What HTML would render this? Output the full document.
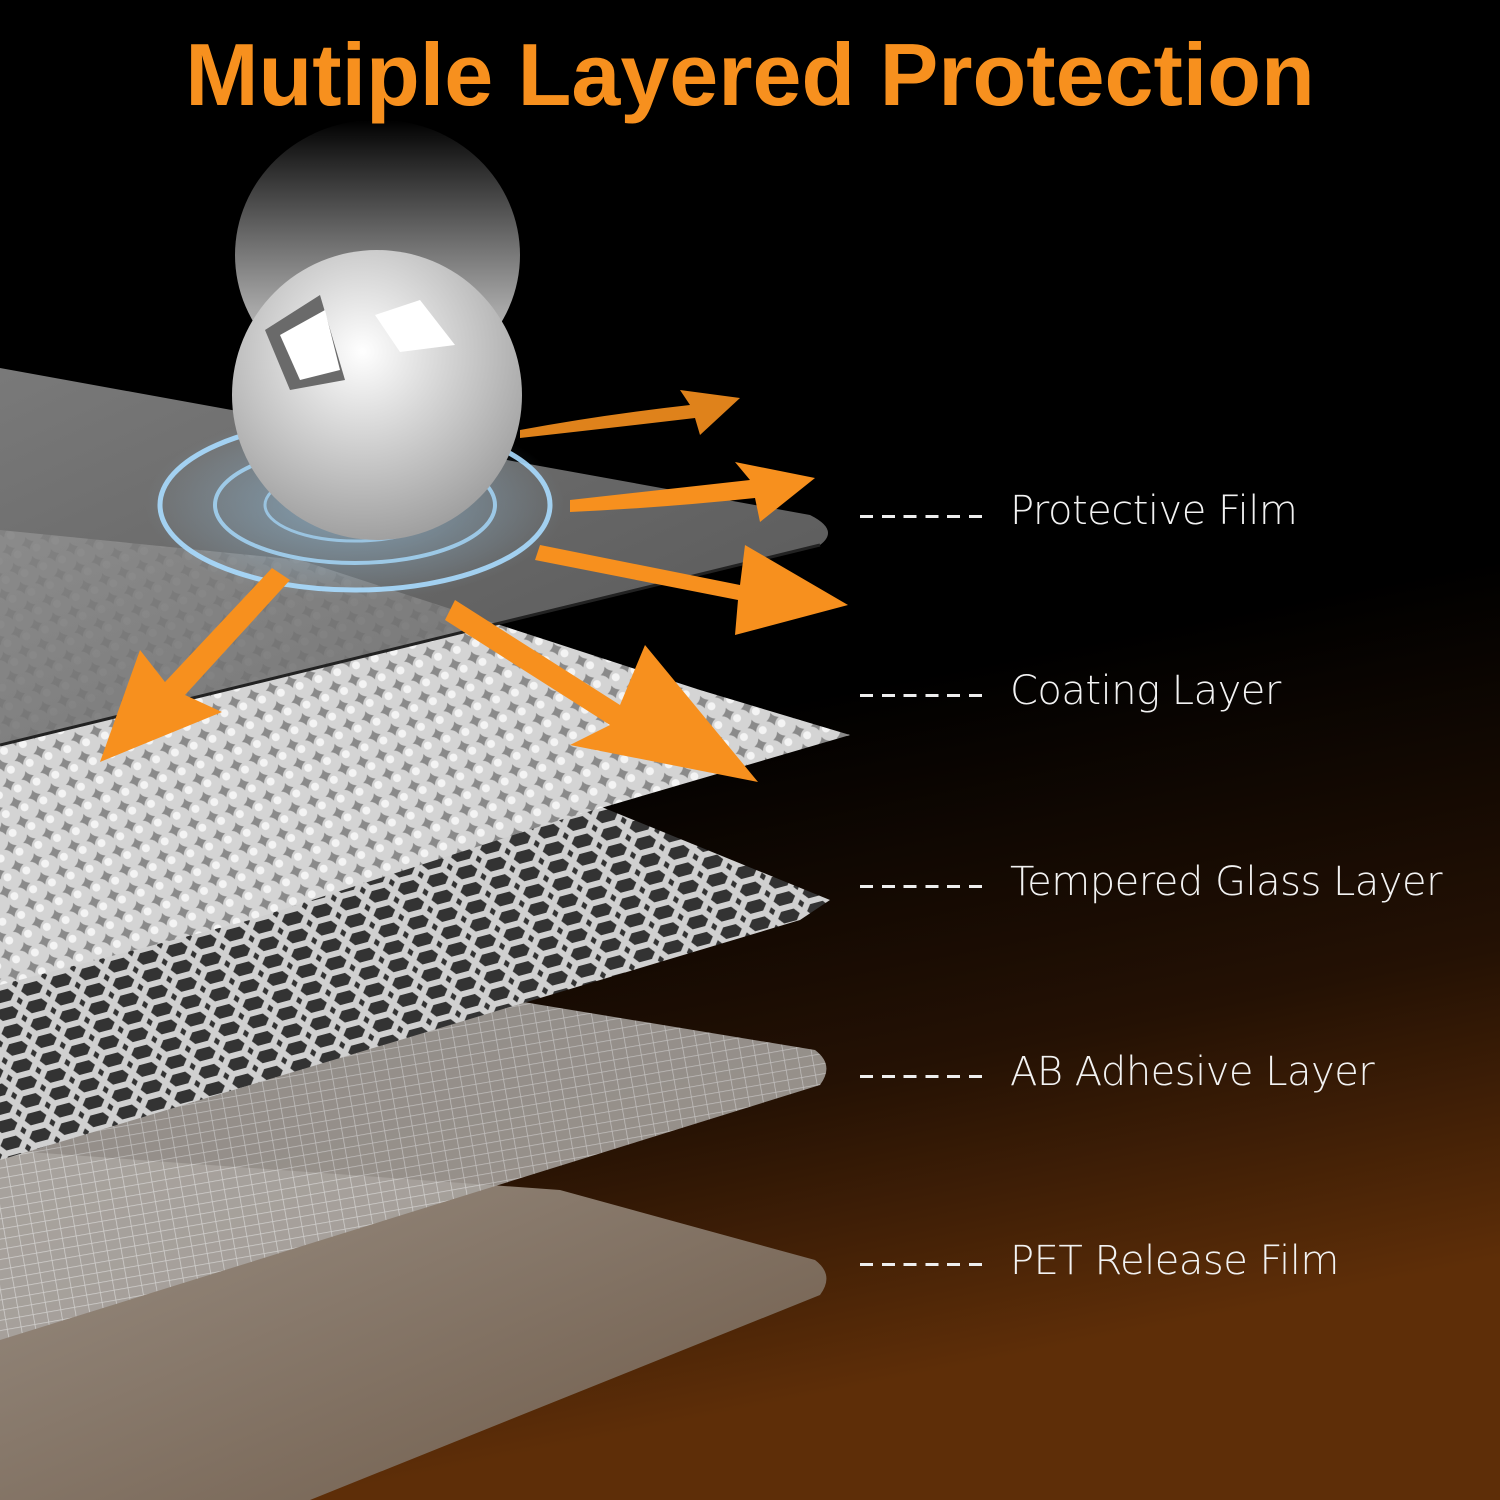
<!DOCTYPE html>
<html><head><style>
html,body{margin:0;padding:0;background:#000;}
.w{position:relative;width:1500px;height:1500px;overflow:hidden;}
svg{position:absolute;left:0;top:0;}
.t{position:absolute;left:0;width:1500px;top:24px;text-align:center;font:bold 88px "Liberation Sans",sans-serif;color:#f7901e;letter-spacing:0px;}
.l{position:absolute;left:1010px;font:40px "DejaVu Sans","Liberation Sans",sans-serif;color:#f2f2f2;white-space:pre;font-weight:300;letter-spacing:-0.5px;}
.d{position:absolute;left:860px;width:122px;height:3px;background:repeating-linear-gradient(90deg,#eee 0 13px,transparent 13px 21.8px);}
</style></head><body><div class="w">
<svg width="1500" height="1500" viewBox="0 0 1500 1500">
<defs>
<linearGradient id="bg" x1="0" y1="0" x2="0.2" y2="1">
<stop offset="0.55" stop-color="#000"/><stop offset="0.8" stop-color="#241104"/><stop offset="1" stop-color="#5e2e08"/>
</linearGradient>
<linearGradient id="pf" x1="0" y1="0" x2="1" y2="1">
<stop offset="0" stop-color="#8a8a8a"/><stop offset="1" stop-color="#606060"/>
</linearGradient>
<linearGradient id="pet" x1="0" y1="0" x2="1" y2="1">
<stop offset="0" stop-color="#9a8f84"/><stop offset="1" stop-color="#6e5a48"/>
</linearGradient>
<pattern id="beads" width="20" height="20" patternUnits="userSpaceOnUse" patternTransform="rotate(-20)">
<rect width="20" height="20" fill="#8a8a8a"/>
<circle cx="10" cy="10" r="10.5" fill="#d4d4d4"/><circle cx="7" cy="7" r="4" fill="#f4f4f4"/>
</pattern>
<pattern id="mesh" width="30" height="18" patternUnits="userSpaceOnUse" patternTransform="rotate(-15)">
<rect width="30" height="18" fill="#333"/>
<path d="M0 9 L7 0 L23 0 L30 9 L23 18 L7 18 Z" fill="none" stroke="#d0d0d0" stroke-width="6"/>
</pattern>
<pattern id="grid" width="14" height="10" patternUnits="userSpaceOnUse" patternTransform="rotate(-10)">
<rect width="14" height="10" fill="#aaa6a2"/>
<path d="M0 0H14M0 0V10" stroke="#ddd" stroke-width="1.5"/>
</pattern>
<radialGradient id="ball" cx="0.45" cy="0.35" r="0.7">
<stop offset="0" stop-color="#fff"/><stop offset="0.5" stop-color="#ccc"/><stop offset="1" stop-color="#999"/>
</radialGradient>
<linearGradient id="trail" x1="0" y1="0" x2="0" y2="1">
<stop offset="0" stop-color="#fff" stop-opacity="0"/><stop offset="0.7" stop-color="#eee" stop-opacity="0.7"/><stop offset="1" stop-color="#eee" stop-opacity="0.9"/>
</linearGradient>
<radialGradient id="glow" cx="0.5" cy="0.5" r="0.5">
<stop offset="0" stop-color="#9fd8ff" stop-opacity="0.5"/><stop offset="1" stop-color="#9fd8ff" stop-opacity="0"/>
</radialGradient>
</defs>
<rect width="1500" height="1500" fill="url(#bg)"/>
<path d="M0 1150 L560 1190 L815 1260 Q835 1275 820 1295 L310 1500 L0 1500Z" fill="url(#pet)"/>
<path d="M0 1000 L450 990 L815 1050 Q835 1065 820 1085 L0 1340Z" fill="url(#grid)" opacity="0.85"/>
<path d="M0 900 L560 790 L830 900 L800 920 L0 1160Z" fill="url(#mesh)"/>
<path d="M0 530 L300 560 L700 690 L850 735 L560 820 L250 920 L0 985Z" fill="url(#beads)"/>
<path d="M0 368 L810 515 Q840 530 820 545 L0 745Z" fill="url(#pf)" opacity="0.88"/>
<path d="M0 745 L820 545" stroke="#222" stroke-width="3"/>
<rect x="235" y="120" width="285" height="270" rx="140" fill="url(#trail)"/>
<ellipse cx="355" cy="505" rx="210" ry="95" fill="url(#glow)"/>
<g fill="none" stroke="#a8dcff">
<ellipse cx="355" cy="505" rx="195" ry="85" stroke-width="5" opacity="0.9"/>
<ellipse cx="355" cy="505" rx="140" ry="58" stroke-width="4" opacity="0.8"/>
<ellipse cx="355" cy="505" rx="90" ry="36" stroke-width="3" opacity="0.7"/>
</g>
<circle cx="377" cy="395" r="145" fill="url(#ball)"/>
<path d="M265 330 L320 295 L345 380 L290 390Z" fill="#6a6a6a"/>
<path d="M280 335 L325 310 L340 370 L300 380Z" fill="#fff"/>
<path d="M375 315 L420 300 L455 345 L400 352Z" fill="#fff"/>
<g fill="#f7901e">
<path d="M520 430 Q600 415 690 405 L680 390 L740 398 L700 435 L695 418 Q610 428 520 438Z" opacity="0.9"/>
<path d="M570 500 Q660 490 750 480 L735 462 L815 478 L760 522 L755 498 Q660 508 570 512Z"/>
<path d="M540 545 L740 585 L745 545 L848 605 L735 635 L738 600 L535 560Z"/>
<path d="M455 600 L620 705 L645 645 L758 782 L570 745 L610 725 L445 620Z"/>
<path d="M290 580 L185 695 L222 712 L100 762 L140 650 L165 682 L272 568Z"/>
</g>
</svg>
<div class="t">Mutiple Layered Protection</div>
<div class="d" style="top:515px"></div><div class="l" style="top:488px">Protective Film</div>
<div class="d" style="top:694px"></div><div class="l" style="top:668px">Coating Layer</div>
<div class="d" style="top:885px"></div><div class="l" style="top:859px">Tempered Glass Layer</div>
<div class="d" style="top:1075px"></div><div class="l" style="top:1049px">AB Adhesive Layer</div>
<div class="d" style="top:1263px"></div><div class="l" style="top:1238px">PET Release Film</div>
</div></body></html>
